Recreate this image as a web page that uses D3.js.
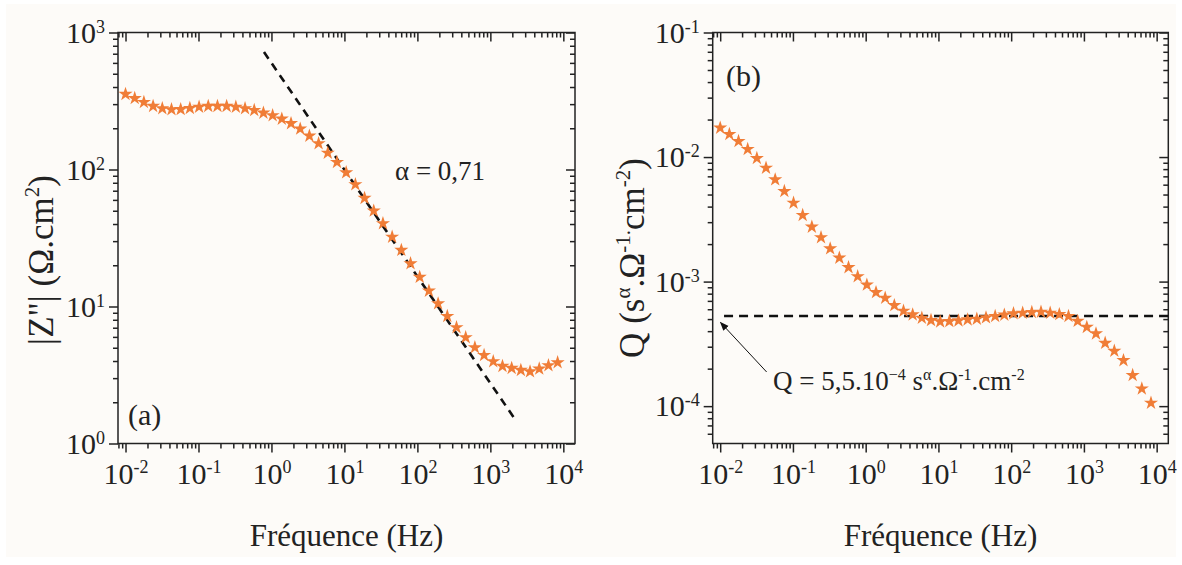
<!DOCTYPE html>
<html><head><meta charset="utf-8">
<script src="https://cdn.jsdelivr.net/npm/d3@7"></script>
<style>
html,body{margin:0;padding:0;background:#ffffff;}
svg{display:block;}
svg text{font-family:'Liberation Serif','Times New Roman',Times,'Nimbus Roman','DejaVu Serif',serif;}
</style></head><body>
<svg id="chart" width="1182" height="565"></svg>
<script>
// ---------- data ----------
const frequencies = [0.01, 0.01337, 0.01786, 0.02388, 0.03192, 0.04266, 0.05702, 0.07621,
  0.1019, 0.1361, 0.1820, 0.2432, 0.3251, 0.4345, 0.5808, 0.7762,
  1.038, 1.387, 1.854, 2.477, 3.311, 4.426, 5.916, 7.907,
  10.57, 14.13, 18.88, 25.23, 33.73, 45.08, 60.26, 80.54,
  107.6, 143.9, 192.3, 257.0, 343.6, 459.2, 613.8, 820.4,
  1096, 1466, 1959, 2618, 3499, 4677, 6252, 8356];
const zImag = [355, 331, 310, 290, 279, 274, 275, 280,
  286, 290, 290, 290, 286, 279, 271, 259,
  248, 234, 217, 198, 176, 155, 132, 113,
  95, 77.8, 61.8, 49.9, 40.4, 32.2, 25.8, 20.6,
  16.4, 13.0, 10.5, 8.49, 7.03, 5.94, 5.02, 4.41,
  3.97, 3.67, 3.55, 3.43, 3.35, 3.51, 3.71, 3.90];
const qValues = [0.01714, 0.01524, 0.01339, 0.01156, 0.00978, 0.00817, 0.00659, 0.00531,
  0.00428, 0.00341, 0.00275, 0.00226, 0.00184, 0.00155, 0.00130, 0.00110,
  0.000942, 0.000820, 0.000738, 0.000645, 0.000581, 0.000543, 0.000510, 0.000489,
  0.000477, 0.000480, 0.000486, 0.000495, 0.000501, 0.000514, 0.000527, 0.000540,
  0.000554, 0.000560, 0.000567, 0.000570, 0.000560, 0.000546, 0.000527, 0.000482,
  0.000431, 0.000382, 0.000321, 0.000277, 0.000233, 0.000177, 0.000138, 0.000106];
const fitFreqZ = [0.79, 2300];
const fitValZ = [720, 1.44];
const qLineFreq = [0.0113, 14450];
const qLineVal = [5.3e-4, 5.3e-4];
const arrowFreq = [0.0435, 0.0101];
const arrowQ = [1.88e-4, 4.7e-4];
const xTickExps = [-2, -1, 0, 1, 2, 3, 4];
const yTickExpsZ = [0, 1, 2, 3];
const yTickExpsQ = [-4, -3, -2, -1];
const xDomain = [Math.pow(10, -2.103), Math.pow(10, 4.16)];
const yDomainZ = [1, 1000];
const yDomainQ = [Math.pow(10, -4.3), 0.1];

// ---------- style ----------
const INK = '#222';
const STAR = '#F07D37';
const BG = '#FDFBF8';

const svg = d3.select('#chart');
svg.append('rect').attr('x', 6).attr('y', 4).attr('width', 1170).attr('height', 553).attr('fill', BG);

function minorValues(domain) {
  const out = [];
  const lo = Math.floor(Math.log10(domain[0])), hi = Math.ceil(Math.log10(domain[1]));
  for (let d = lo; d <= hi; d++) for (let m = 2; m <= 9; m++) {
    const v = m * Math.pow(10, d);
    if (v >= domain[0] * 0.999 && v <= domain[1] * 1.001) out.push(v);
  }
  return out;
}

function richText(sel, parts, supSize, shift) {
  sel.text(null);
  let inSup = false;
  parts.forEach(p => {
    const t = sel.append('tspan').text(p.t);
    if (p.sup && !inSup) { t.attr('dy', -shift).attr('font-size', supSize); inSup = true; }
    else if (p.sup) { t.attr('font-size', supSize); }
    else if (!p.sup && inSup) { t.attr('dy', shift); inSup = false; }
  });
}

function panel(cfg) {
  const x = d3.scaleLog().domain(xDomain).range([cfg.left, cfg.right]);
  const y = d3.scaleLog().domain(cfg.yDomain).range([cfg.bottom, cfg.top]);
  const g = svg.append('g');
  const xMaj = xTickExps.map(e => Math.pow(10, e));
  const yMaj = cfg.yExps.map(e => Math.pow(10, e));
  const xMin = minorValues(xDomain);
  const yMin = minorValues(cfg.yDomain);

  function styleAxis(a) {
    a.attr('font-size', 30).attr('color', INK);
    a.select('.domain').remove();
    a.selectAll('.tick line').attr('stroke-width', 1.5);
  }
  // bottom
  const gb = g.append('g').attr('transform', `translate(0,${cfg.bottom})`)
    .call(d3.axisBottom(x).tickValues(xMaj).tickSize(9).tickPadding(10));
  styleAxis(gb);
  gb.selectAll('.tick text').each(function(d, i) {
    richText(d3.select(this), [{t: '10'}, {t: String(xTickExps[i]), sup: true}], 18, 11);
  });
  g.append('g').attr('transform', `translate(0,${cfg.bottom})`)
    .call(d3.axisBottom(x).tickValues(xMin).tickSize(5).tickFormat('')).call(styleAxis);
  // top
  g.append('g').attr('transform', `translate(0,${cfg.top})`)
    .call(d3.axisTop(x).tickValues(xMaj).tickSize(-9).tickFormat('')).call(styleAxis);
  g.append('g').attr('transform', `translate(0,${cfg.top})`)
    .call(d3.axisTop(x).tickValues(xMin).tickSize(-5).tickFormat('')).call(styleAxis);
  // left
  const gl = g.append('g').attr('transform', `translate(${cfg.left},0)`)
    .call(d3.axisLeft(y).tickValues(yMaj).tickSize(9).tickPadding(4));
  styleAxis(gl);
  gl.selectAll('.tick text').each(function(d, i) {
    richText(d3.select(this), [{t: '10'}, {t: String(cfg.yExps[i]), sup: true}], 18, 10);
  });
  g.append('g').attr('transform', `translate(${cfg.left},0)`)
    .call(d3.axisLeft(y).tickValues(yMin).tickSize(5).tickFormat('')).call(styleAxis);
  // right
  g.append('g').attr('transform', `translate(${cfg.right},0)`)
    .call(d3.axisRight(y).tickValues(yMaj).tickSize(-9).tickFormat('')).call(styleAxis);
  g.append('g').attr('transform', `translate(${cfg.right},0)`)
    .call(d3.axisRight(y).tickValues(yMin).tickSize(-5).tickFormat('')).call(styleAxis);
  // frame
  g.append('rect').attr('x', cfg.left).attr('y', cfg.top)
    .attr('width', cfg.right - cfg.left).attr('height', cfg.bottom - cfg.top)
    .attr('fill', 'none').attr('stroke', INK).attr('stroke-width', 1.5);

  // x title
  g.append('text').attr('x', (cfg.left + cfg.right) / 2).attr('y', 546)
    .attr('text-anchor', 'middle').attr('font-size', 31).attr('fill', INK)
    .text('Fréquence (Hz)');
  // y title
  const yt = g.append('text').attr('transform', `translate(${cfg.yTitleX},${cfg.yTitleY}) rotate(-90)`)
    .attr('text-anchor', 'middle').attr('font-size', 35).attr('fill', INK);
  richText(yt, cfg.yTitle, 21, 14);
  return {x, y, g};
}

// ---------- panel (a) ----------
const A = panel({left: 118, right: 575, top: 32.5, bottom: 443.5, yDomain: yDomainZ, yExps: yTickExpsZ,
  yTitleX: 53, yTitleY: 260,
  yTitle: [{t: '|Z"| (Ω.cm'}, {t: '2', sup: true}, {t: ')'}]});

A.g.append('path')
  .attr('d', d3.line().x((d, i) => A.x(fitFreqZ[i])).y((d, i) => A.y(fitValZ[i]))(fitFreqZ))
  .attr('stroke', '#111').attr('stroke-width', 2.6).attr('stroke-dasharray', '8,6').attr('fill', 'none');

A.g.selectAll('path.star').data(frequencies).join('path').attr('class', 'star')
  .attr('d', d3.symbol().type(d3.symbolStar).size(62))
  .attr('transform', (d, i) => `translate(${A.x(d)},${A.y(zImag[i])})`)
  .attr('fill', STAR);

A.g.append('text').attr('x', 395).attr('y', 180).attr('font-size', 27).attr('fill', INK)
  .text('α = 0,71');
A.g.append('text').attr('x', 128).attr('y', 425).attr('font-size', 30).attr('fill', INK)
  .text('(a)');

// ---------- panel (b) ----------
const B = panel({left: 712.7, right: 1168.3, top: 32.5, bottom: 443.5, yDomain: yDomainQ, yExps: yTickExpsQ,
  yTitleX: 644, yTitleY: 258,
  yTitle: [{t: 'Q (s'}, {t: 'α', sup: true}, {t: '.Ω'}, {t: '-1.', sup: true}, {t: 'cm'}, {t: '-2', sup: true}, {t: ')'}]});

B.g.append('path')
  .attr('d', d3.line().x((d, i) => B.x(qLineFreq[i])).y((d, i) => B.y(qLineVal[i]))(qLineFreq))
  .attr('stroke', '#111').attr('stroke-width', 2.6).attr('stroke-dasharray', '9,6').attr('fill', 'none');

B.g.selectAll('path.star').data(frequencies).join('path').attr('class', 'star')
  .attr('d', d3.symbol().type(d3.symbolStar).size(62))
  .attr('transform', (d, i) => `translate(${B.x(d)},${B.y(qValues[i])})`)
  .attr('fill', STAR);

// arrow
const defs = svg.append('defs');
defs.append('marker').attr('id', 'arr').attr('viewBox', '0 0 10 10').attr('refX', 9).attr('refY', 5)
  .attr('markerWidth', 9).attr('markerHeight', 9).attr('markerUnits', 'userSpaceOnUse').attr('orient', 'auto')
  .append('path').attr('d', 'M0,1 L10,5 L0,9 Z').attr('fill', '#111');
B.g.append('line')
  .attr('x1', B.x(arrowFreq[0])).attr('y1', B.y(arrowQ[0]))
  .attr('x2', B.x(arrowFreq[1])).attr('y2', B.y(arrowQ[1]))
  .attr('stroke', '#111').attr('stroke-width', 1).attr('marker-end', 'url(#arr)');

const ann = B.g.append('text').attr('x', 773).attr('y', 390).attr('font-size', 27).attr('fill', INK);
richText(ann, [{t: 'Q = 5,5.10'}, {t: '−4', sup: true}, {t: ' s'}, {t: 'α', sup: true}, {t: '.Ω'}, {t: '-1', sup: true},
  {t: '.cm'}, {t: '-2', sup: true}], 16, 10);

B.g.append('text').attr('x', 726).attr('y', 86).attr('font-size', 30).attr('fill', INK)
  .text('(b)');
</script>
</body></html>
